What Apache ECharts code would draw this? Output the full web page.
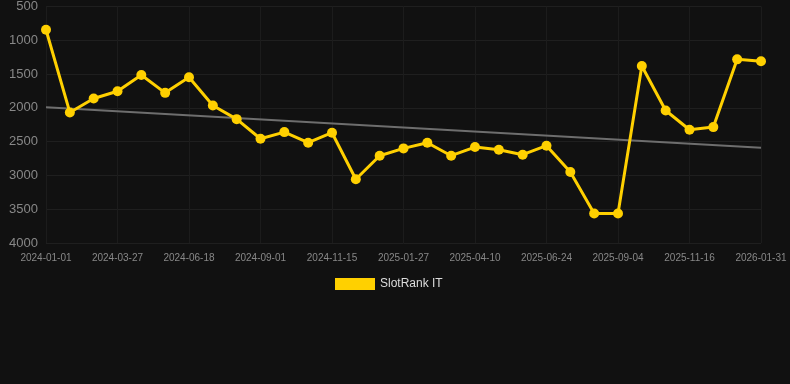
<!DOCTYPE html>
<html>
<head>
<meta charset="utf-8">
<script src="https://cdn.jsdelivr.net/npm/echarts@6/dist/echarts.min.js"></script>
<style>
  html, body { margin: 0; padding: 0; background: #111111; }
  #chart { width: 790px; height: 384px; }
</style>
</head>
<body>
<div id="chart"></div>
<script>
var dates = [
  '2024-01-01', '2024-01-29', '2024-02-27', '2024-03-27', '2024-04-24', '2024-05-21',
  '2024-06-18', '2024-07-13', '2024-08-07', '2024-09-01', '2024-09-26', '2024-10-21',
  '2024-11-15', '2024-12-10', '2025-01-03', '2025-01-27', '2025-02-20', '2025-03-17',
  '2025-04-10', '2025-05-05', '2025-05-30', '2025-06-24', '2025-07-18', '2025-08-11',
  '2025-09-04', '2025-09-28', '2025-10-22', '2025-11-16', '2025-12-11', '2026-01-06',
  '2026-01-31'
];
var rankIT = [
  844, 2068, 1862, 1754, 1513, 1778, 1547, 1965, 2167, 2457, 2359, 2516,
  2368, 3057, 2708, 2600, 2516, 2708, 2580, 2619, 2693, 2560, 2949, 3563,
  3563, 1380, 2039, 2324, 2285, 1282, 1311
];
// trend line ends
var trendStart = 1990;
var trendEnd = 2590;

var trend = [];
for (var i = 0; i < dates.length; i++) {
  trend.push(null);
}
trend[0] = trendStart;
trend[dates.length - 1] = trendEnd;

var myChart = echarts.init(document.getElementById('chart'));
var option = {
  backgroundColor: '#111111',
  animation: false,
  grid: {
    left: 46,
    right: 29,
    top: 6,
    bottom: 141
  },
  legend: {
    data: ['SlotRank IT'],
    left: 330,
    top: 273,
    itemWidth: 40,
    itemHeight: 12,
    itemGap: 10,
    icon: 'rect',
    textStyle: { color: '#dddddd', fontSize: 12 }
  },
  xAxis: {
    type: 'category',
    data: dates,
    boundaryGap: false,
    axisLine: { show: false },
    axisTick: { show: false },
    axisLabel: { color: '#888888', fontSize: 10, interval: 2, margin: 10 },
    splitLine: { show: true, interval: 2, lineStyle: { color: '#1c1c1c' } }
  },
  yAxis: {
    type: 'value',
    inverse: true,
    min: 500,
    max: 4000,
    interval: 500,
    axisLine: { show: false },
    axisTick: { show: false },
    axisLabel: {
      color: '#888888',
      fontSize: 13,
      margin: 8,
      formatter: function (v) { return String(v); }
    },
    splitLine: { lineStyle: { color: '#1f1f1f' } }
  },
  series: [
    {
      name: 'SlotRank IT',
      type: 'line',
      data: rankIT,
      color: '#ffd000',
      symbol: 'circle',
      symbolSize: 10,
      lineStyle: { width: 3, color: '#ffd000' },
      itemStyle: { color: '#ffd000' },
      z: 3
    },
    {
      name: 'trend',
      type: 'line',
      data: trend,
      connectNulls: true,
      symbol: 'none',
      lineStyle: { width: 2, color: '#6e6e6e' },
      z: 2
    }
  ]
};
myChart.setOption(option);
</script>
</body>
</html>
